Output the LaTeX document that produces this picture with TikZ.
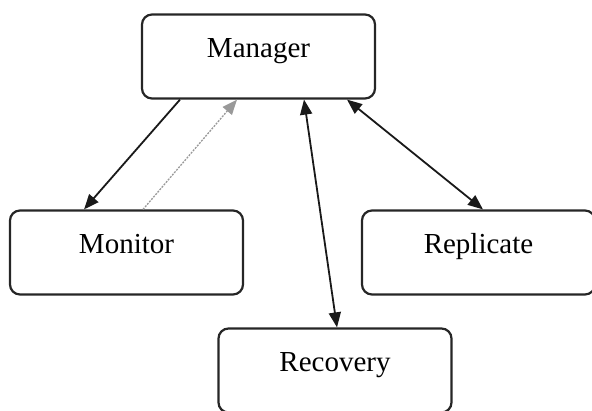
\documentclass[tikz,border=0pt]{standalone}
\usepackage{fontspec}
\setmainfont{Liberation Serif}
\usetikzlibrary{arrows.meta, positioning}

\tikzset{
	block/.style={draw=black!85, line width=2.2pt, rounded corners=10pt,
		minimum width=233pt, minimum height=84pt,
		text height=20pt, text depth=18pt, font=\fontsize{29}{34}\selectfont},
	link/.style={line width=1.8pt, black!90},
	weak/.style={line width=1.3pt, gray!80, dash pattern=on 2pt off 1.2pt},
}

\begin{document}
\begin{tikzpicture}[x=1pt, y=-1pt]
		\clip (0,0) rectangle (592,411);

		\node (manager) [block] at (258.5,56.5) {Manager};
		\node (monitor) [block] at (126.5,252.5) {Monitor};
		\node (replicate) [block] at (478.5,252.5) {Replicate};
		\node (recovery) [block] at (335,370.5) {Recovery};

		\draw [link, -{Triangle[length=15pt, width=12pt]}]
		([xshift=-78.5pt]manager.south) -- ([xshift=-42.5pt]monitor.north);
		\draw [weak, -{Triangle[length=15pt, width=12pt]}]
		([xshift=16.5pt]monitor.north) -- ([xshift=-21.5pt]manager.south);
		\draw [link, {Triangle[length=15pt, width=12pt]}-{Triangle[length=15pt, width=12pt]}]
		([xshift=45.5pt]manager.south) -- ([xshift=2pt]recovery.north);
		\draw [link, {Triangle[length=15pt, width=12pt]}-{Triangle[length=15pt, width=12pt]}]
		([xshift=88.5pt]manager.south) -- ([xshift=4.5pt]replicate.north);
	\end{tikzpicture}
\end{document}
